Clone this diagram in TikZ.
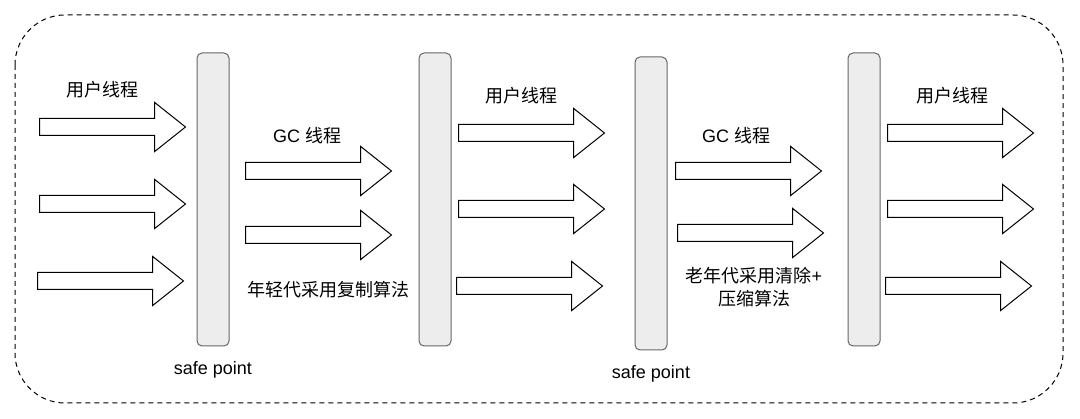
\documentclass[tikz,border=0pt]{standalone}
\usepackage{fontspec}
\setmainfont{Liberation Sans}
\newfontfamily\cjk{Noto Sans CJK SC}
\usetikzlibrary{shapes.arrows,positioning}

\tikzset{
  thread/.style={single arrow, draw=black, fill=white, line width=1pt,
    minimum height=146pt, inner sep=8pt, single arrow head extend=16pt,
    single arrow tip angle=77, anchor=tail},
  safebar/.style={draw=black!60, fill=black!7, line width=1pt, rounded corners=5pt,
    minimum width=32pt, minimum height=293pt, inner sep=0pt},
  lbl/.style={inner sep=0pt, font=\fontsize{18}{23}\selectfont, align=center}
}

\begin{document}
\begin{tikzpicture}[x=1pt,y=-1pt]
\useasboundingbox (0,0) rectangle (1080,419);
% outer frame
\draw[dashed, dash pattern=on 5pt off 4pt, line width=1pt, rounded corners=50pt] (15,15) rectangle (1063,403);

% safe point bars
\node[safebar] (bar1) at (213,199.5) {};
\node[safebar] (bar2) at (435,199.5) {};
\node[safebar] (bar3) at (651,203.5) {};
\node[safebar] (bar4) at (864,199.5) {};
\node[lbl, below=15pt of bar1] (sp1) {safe point};
\node[lbl, below=15pt of bar3] (sp2) {safe point};

% user threads before first safe point
\node[thread] (ua1) at (39,127) {};
\node[thread] (ua2) at (39,204) {};
\node[thread] (ua3) at (37,281) {};
\node[lbl] (lblua) at (102,90) {\cjk 用户线程};

% young gen GC
\node[thread] (gca1) at (245,171) {};
\node[thread] (gca2) at (245,235) {};
\node[lbl] (lblgca) at (307,136) {GC {\cjk 线程}};
\node[lbl] (lblyoung) at (328,290) {\cjk 年轻代采用复制算法};

% user threads again
\node[thread] (ub1) at (458,133) {};
\node[thread] (ub2) at (458,209) {};
\node[thread] (ub3) at (456,286) {};
\node[lbl] (lblub) at (521,96) {\cjk 用户线程};

% old gen GC
\node[thread] (gcb1) at (675,171) {};
\node[thread] (gcb2) at (677,233) {};
\node[lbl] (lblgcb) at (736,136) {GC {\cjk 线程}};
\node[lbl] (lblold) at (754,287) {{\cjk 老年代采用清除}+\\{\cjk 压缩算法}};

% user threads last
\node[thread] (uc1) at (887,133) {};
\node[thread] (uc2) at (887,209) {};
\node[thread] (uc3) at (885,286) {};
\node[lbl] (lbluc) at (952,96) {\cjk 用户线程};
\end{tikzpicture}
\end{document}
